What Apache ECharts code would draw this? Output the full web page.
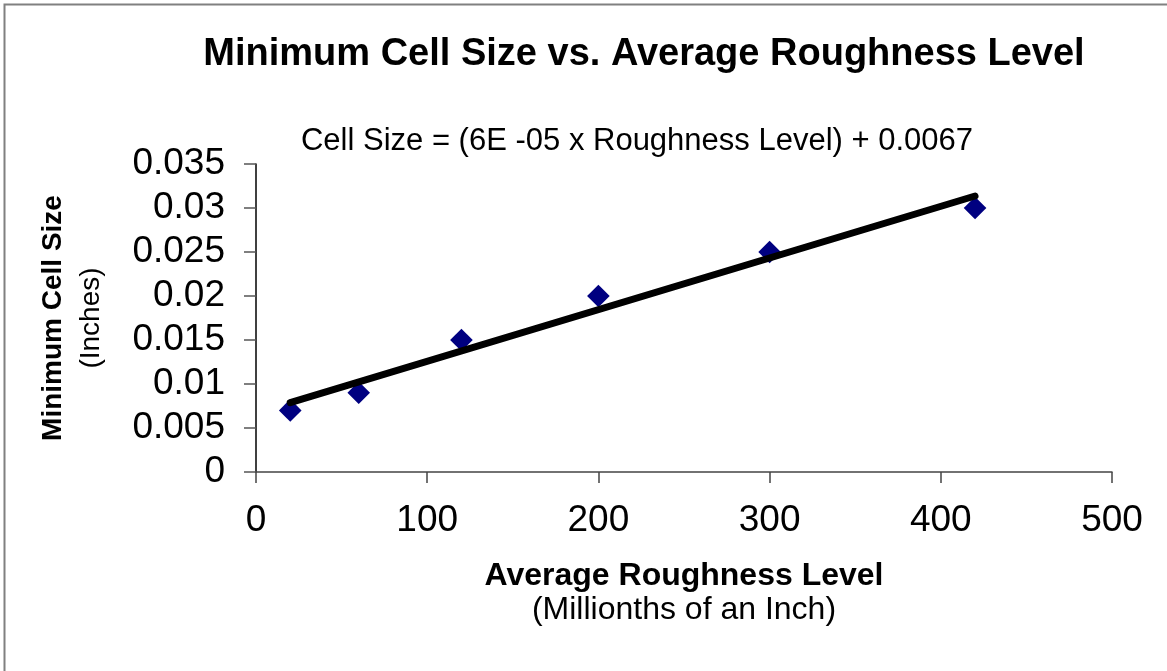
<!DOCTYPE html>
<html>
<head>
<meta charset="utf-8">
<title>Minimum Cell Size vs. Average Roughness Level</title>
<script src="https://cdn.jsdelivr.net/npm/echarts@6/dist/echarts.min.js"></script>
<style>
html, body {
  margin: 0;
  padding: 0;
  background: #fff;
}
#chart {
  width: 1167px;
  height: 671px;
}
</style>
</head>
<body>
<div id="chart"></div>
<script>
// roughness level (millionths of an inch) and measured minimum cell size (inches)
const roughness = [20, 60, 120, 200, 300, 420]
const cellSize = [0.007, 0.009, 0.015, 0.02, 0.025, 0.03]

const xTicks = [0, 100, 200, 300, 400, 500]
const yTicks = [0, 0.005, 0.01, 0.015, 0.02, 0.025, 0.03, 0.035]

// least squares trendline, same as the excel one
const fitLine = (xs, ys) => {
  const n = xs.length
  const mx = xs.reduce((a, b) => a + b, 0) / n
  const my = ys.reduce((a, b) => a + b, 0) / n
  let sxy = 0
  let sxx = 0
  for (let i = 0; i < n; i++) {
    sxy += (xs[i] - mx) * (ys[i] - my)
    sxx += (xs[i] - mx) * (xs[i] - mx)
  }
  const slope = sxy / sxx
  return { slope: slope, intercept: my - slope * mx }
}

const fit = fitLine(roughness, cellSize)
const xMin = Math.min(...roughness)
const xMax = Math.max(...roughness)
const trend = [
  [xMin, fit.intercept + fit.slope * xMin],
  [xMax, fit.intercept + fit.slope * xMax]
]

const font = 'Liberation Sans, Arial, sans-serif'

const chart = echarts.init(document.getElementById('chart'))
chart.setOption({
  animation: false,
  backgroundColor: '#fff',
  textStyle: { fontFamily: font },
  graphic: [
    {
      type: 'rect',
      shape: { x: 4.5, y: 4.5, width: 1300, height: 800 },
      style: { fill: 'none', stroke: '#808080', lineWidth: 2 },
      silent: true
    },
    {
      type: 'text',
      style: {
        text: 'Minimum Cell Size vs. Average Roughness Level',
        x: 644,
        y: 55,
        textAlign: 'center',
        textVerticalAlign: 'middle',
        font: 'bold 38px ' + font,
        fill: '#000'
      }
    },
    {
      type: 'text',
      style: {
        text: 'Cell Size = (6E -05 x Roughness Level) + 0.0067',
        x: 637,
        y: 141,
        textAlign: 'center',
        textVerticalAlign: 'middle',
        font: '31px ' + font,
        fill: '#000'
      }
    }
  ],
  grid: {
    left: 256,
    right: 55,
    top: 164,
    bottom: 199
  },
  xAxis: {
    type: 'value',
    min: xTicks[0],
    max: xTicks[xTicks.length - 1],
    interval: 100,
    name: '{b|Average Roughness Level}\n{n|(Millionths of an Inch)}',
    nameLocation: 'middle',
    nameGap: 87,
    nameTextStyle: {
      rich: {
        b: { fontSize: 32, fontWeight: 'bold', color: '#000', lineHeight: 34, fontFamily: font },
        n: { fontSize: 32, color: '#000', lineHeight: 34, fontFamily: font }
      }
    },
    splitLine: { show: false },
    axisLine: { show: true, onZero: false, lineStyle: { color: '#444', width: 1.5 } },
    axisTick: { show: true, length: 11, lineStyle: { color: '#444', width: 1.5 } },
    axisLabel: { fontSize: 37, color: '#000', margin: 30 }
  },
  yAxis: {
    type: 'value',
    min: yTicks[0],
    max: yTicks[yTicks.length - 1],
    interval: 0.005,
    name: '{b|Minimum Cell Size}\n{n|(Inches)}',
    nameLocation: 'middle',
    nameRotate: 90,
    nameGap: 146,
    nameTextStyle: {
      rich: {
        b: { fontSize: 28, fontWeight: 'bold', color: '#000', lineHeight: 38, fontFamily: font },
        n: { fontSize: 28, color: '#000', lineHeight: 38, fontFamily: font }
      }
    },
    splitLine: { show: false },
    axisLine: { show: true, onZero: false, lineStyle: { color: '#000', width: 1.5 } },
    axisTick: { show: true, length: 12, lineStyle: { color: '#555', width: 1.5 } },
    axisLabel: {
      fontSize: 37,
      color: '#000',
      margin: 31,
      formatter: (v) => String(parseFloat(v.toFixed(3)))
    }
  },
  series: [
    {
      name: 'Minimum Cell Size',
      type: 'scatter',
      data: roughness.map((x, i) => [x, cellSize[i]]),
      symbol: 'rect',
      symbolSize: 16,
      symbolRotate: 45,
      itemStyle: { color: '#000080', opacity: 1 },
      z: 2
    },
    {
      name: 'Trendline',
      type: 'line',
      data: trend,
      showSymbol: false,
      symbol: 'none',
      lineStyle: { color: '#000', width: 7, cap: 'round' },
      z: 3
    }
  ]
})
</script>
</body>
</html>
